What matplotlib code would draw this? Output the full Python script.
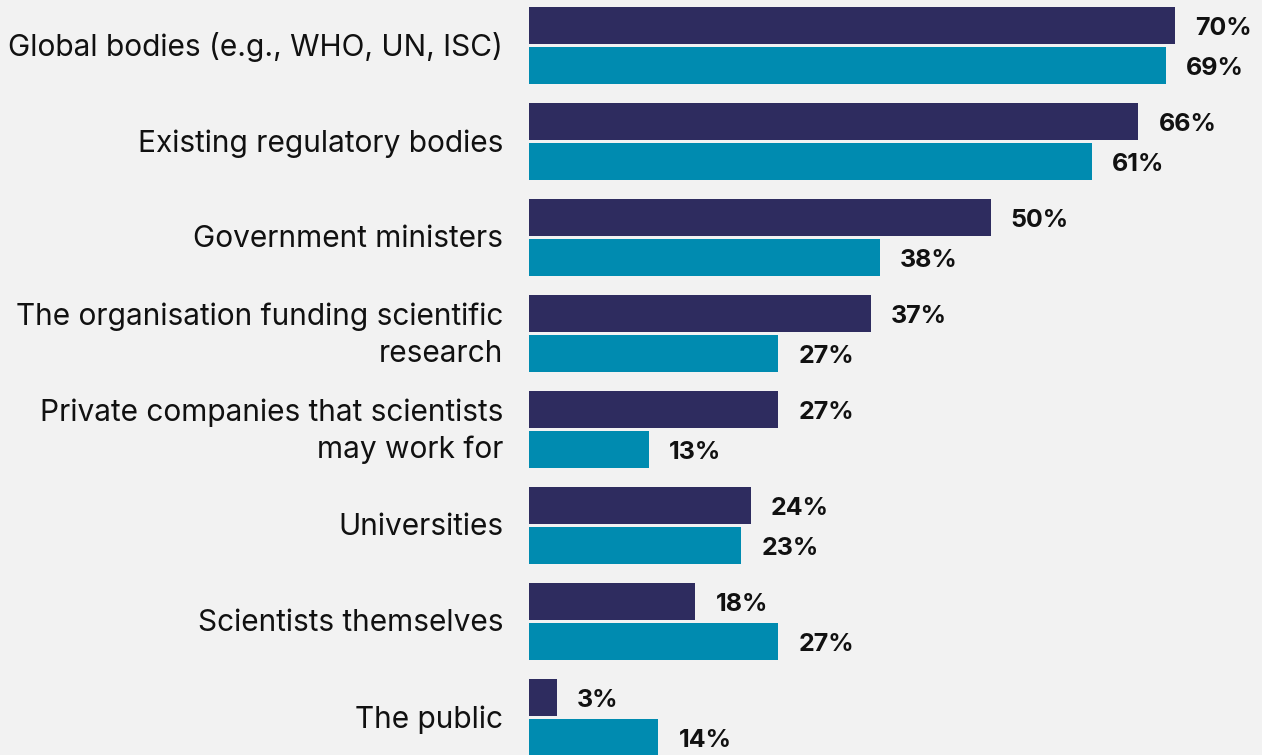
import numpy as np
import matplotlib.pyplot as plt

categories = [
    "Global bodies (e.g., WHO, UN, ISC)",
    "Existing regulatory bodies",
    "Government ministers",
    "The organisation funding scientific\nresearch",
    "Private companies that scientists\nmay work for",
    "Universities",
    "Scientists themselves",
    "The public",
]
series_a = [70, 66, 50, 37, 27, 24, 18, 3]
series_b = [69, 61, 38, 27, 13, 23, 27, 14]

navy = "#2E2C5F"
teal = "#008BB0"
bg = "#F2F2F2"

plt.rcParams['font.family'] = ['Inter', 'DejaVu Sans']

fig = plt.figure(figsize=(12.62, 7.55), dpi=100, facecolor=bg)
ax = fig.add_axes([529 / 1262, 0, 1 - 529 / 1262, 1])
ax.set_facecolor(bg)

y = np.arange(len(categories))
h = 0.385
off = 0.208
ax.barh(y - off, series_a, height=h, color=navy)
ax.barh(y + off, series_b, height=h, color=teal)

for i in range(len(categories)):
    ax.text(series_a[i] + 2.2, y[i] - off + 0.03, f"{series_a[i]}%", va='center',
            ha='left', fontsize=18, fontweight='bold', color='#111111')
    ax.text(series_b[i] + 2.2, y[i] + off + 0.03, f"{series_b[i]}%", va='center',
            ha='left', fontsize=18, fontweight='bold', color='#111111')
    ax.text(-2.8, y[i] + 0.02, categories[i], va='center', ha='right', fontsize=21.5,
            fontweight='normal', color='#111111', linespacing=1.38, clip_on=False)

ax.set_xlim(0, (1262 - 529) / 9.23)
ax.set_ylim((755 - 45.5) / 96, -45.5 / 96)
ax.axis('off')

fig.savefig("out.png", dpi=100, facecolor=bg)
